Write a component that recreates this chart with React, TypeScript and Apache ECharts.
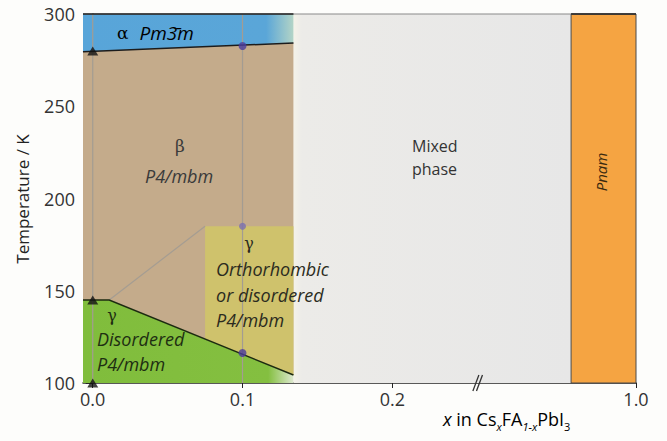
import React, { useEffect, useRef } from "react";
import * as echarts from "echarts";

// ---------- axis layout (display units with a break after 0.2) ----------
const X_MIN = -0.0065;
const X_BREAK = 0.257; // display position of the axis break mark
const X_END = 0.3627; // display position of x = 1.0
const REAL_AFTER_BREAK = 0.7; // real x value just after the break
const xd = (x: number) =>
  x <= 0.25 ? x : X_BREAK + ((x - REAL_AFTER_BREAK) * (X_END - X_BREAK)) / (1 - REAL_AFTER_BREAK);

// ---------- data ----------
const xTickValues = [0, 0.1, 0.2, 1.0];
const xTickLabels = ["0.0", "0.1", "0.2", "1.0"];
const yTicks = [100, 150, 200, 250, 300];

const T_MIN = 100;
const T_MAX = 300;
const PURE_EDGE = 0.134; // right edge of single-phase region
const alphaBetaLine = [
  [X_MIN, 279.5],
  [PURE_EDGE, 284.3],
];
const betaGammaLine = [
  [X_MIN, 145],
  [0.011, 145],
  [PURE_EDGE, 104.3],
];
const orthoLeft = 0.075;
const orthoTop = 185;
const orthoBottomLeft = 123.7;
const guideLine = [
  [0.011, 145],
  [0.075, 185],
];
const triangles = [
  [0, 280],
  [0, 145],
  [0, 100],
];
const dots = [
  [0.1, 282.7],
  [0.1, 116.3],
];
const dotFaint = [[0.1, 185]];
const verticalLines = [0, 0.1];
const mixedRange = [PURE_EDGE, 0.877];
const pnamRange = [0.877, 1.0];

// ---------- regions ----------
const alphaRegion = [[X_MIN, T_MAX], [PURE_EDGE, T_MAX], alphaBetaLine[1], alphaBetaLine[0]];
const betaRegion = [alphaBetaLine[0], alphaBetaLine[1], betaGammaLine[2], betaGammaLine[1], betaGammaLine[0]];
const gammaRegion = [betaGammaLine[0], betaGammaLine[1], betaGammaLine[2], [PURE_EDGE, T_MIN], [X_MIN, T_MIN]];
const orthoRegion = [
  [orthoLeft, orthoTop],
  [PURE_EDGE, orthoTop],
  betaGammaLine[2],
  [orthoLeft, orthoBottomLeft],
];
const mixedRegion = [
  [mixedRange[0], T_MAX],
  [mixedRange[1], T_MAX],
  [mixedRange[1], T_MIN],
  [mixedRange[0], T_MIN],
];
const pnamRegion = [
  [pnamRange[0], T_MAX],
  [pnamRange[1], T_MAX],
  [pnamRange[1], T_MIN],
  [pnamRange[0], T_MIN],
];

const FONT = "'Open Sans', 'Noto Sans', sans-serif";
const SERIF = "'DejaVu Serif', 'Liberation Serif', serif";

function polygonSeries(pts: number[][], style: any, z: number) {
  return {
    type: "custom",
    coordinateSystem: "cartesian2d",
    silent: true,
    z,
    data: [[0, 0]],
    renderItem: (_p: any, api: any) => ({
      type: "polygon",
      shape: { points: pts.map((p) => api.coord([xd(p[0]), p[1]])) },
      style,
    }),
  };
}

function polylineSeries(pts: number[][], style: any, z: number) {
  return {
    type: "custom",
    coordinateSystem: "cartesian2d",
    silent: true,
    z,
    data: [[0, 0]],
    renderItem: (_p: any, api: any) => ({
      type: "polyline",
      shape: { points: pts.map((p) => api.coord([xd(p[0]), p[1]])) },
      style: { fill: null, ...style },
    }),
  };
}

export default function App() {
  const ref = useRef<HTMLDivElement>(null);
  useEffect(() => {
    document.body.style.margin = "0";
    const chart = echarts.init(ref.current!, null, { renderer: "svg" });
    const tickDisplay = xTickValues.map(xd);
    const label = (t: string, x: number, y: number, font: string, fill = "#2b2b2b", align = "left") => ({
      type: "text",
      x,
      y,
      silent: true,
      z: 50,
      style: { text: t, font, fill, align, verticalAlign: "middle" },
    });
    const italic = `italic 18px ${FONT}`;
    const greek = `16px ${SERIF}`;
    chart.setOption({
      animation: false,
      backgroundColor: "#fdfdfb",
      grid: { left: 83, top: 14, right: 31, bottom: 58 },
      xAxis: {
        type: "value",
        min: X_MIN,
        max: X_END,
        axisLine: { show: true, lineStyle: { color: "#222", width: 1.5 } },
        axisTick: { show: true, customValues: tickDisplay, length: 5, lineStyle: { color: "#222" } },
        axisLabel: {
          customValues: tickDisplay,
          formatter: (v: number) => {
            const i = tickDisplay.findIndex((d) => Math.abs(d - v) < 1e-6);
            return i >= 0 ? xTickLabels[i] : "";
          },
          fontSize: 18,
          fontFamily: FONT,
          color: "#333",
          margin: 7,
        },
        splitLine: { show: false },
      },
      yAxis: {
        type: "value",
        min: T_MIN,
        max: T_MAX,
        interval: 50,
        axisLine: { show: true, lineStyle: { color: "#222", width: 1.5 } },
        axisTick: { show: true, length: 7, lineStyle: { color: "#222" } },
        axisLabel: {
          formatter: (v: number) => (yTicks.includes(v) ? String(v) : ""),
          fontSize: 18,
          fontFamily: FONT,
          color: "#333",
          margin: 8,
        },
        splitLine: { show: false },
      },
      series: [
        polygonSeries(
          mixedRegion,
          {
            fill: new echarts.graphic.LinearGradient(0, 0, 1, 0, [
              { offset: 0, color: "#f4f2e8" },
              { offset: 0.03, color: "#ecebe8" },
              { offset: 1, color: "#e7e7e7" },
            ]),
          },
          1
        ),
        polygonSeries(pnamRegion, { fill: "#f5a442", stroke: "#4a4a4a", lineWidth: 1 }, 2),
        polygonSeries(
          alphaRegion,
          {
            fill: new echarts.graphic.LinearGradient(0, 0, 1, 0, [
              { offset: 0, color: "#58a5d9" },
              { offset: 0.87, color: "#5aa6d8" },
              { offset: 1, color: "#b3d4c6" },
            ]),
          },
          2
        ),
        polygonSeries(betaRegion, { fill: "#c4ab8b" }, 2),
        polygonSeries(
          gammaRegion,
          {
            fill: new echarts.graphic.LinearGradient(0, 0, 1, 0, [
              { offset: 0, color: "#80bd3c" },
              { offset: 0.88, color: "#84bf40" },
              { offset: 1, color: "#dde8cf" },
            ]),
          },
          2
        ),
        polygonSeries(orthoRegion, { fill: "#cfc26c" }, 3),
        ...verticalLines.map((x) =>
          polylineSeries(
            [
              [x, T_MIN],
              [x, T_MAX],
            ],
            { stroke: "#a39c92", lineWidth: 1.2 },
            4
          )
        ),
        polylineSeries(guideLine, { stroke: "#a59d92", lineWidth: 1.2 }, 4),
        polylineSeries(alphaBetaLine, { stroke: "#1c1c1c", lineWidth: 1.5 }, 5),
        polylineSeries(betaGammaLine, { stroke: "#1c2a10", lineWidth: 1.5 }, 5),
        polylineSeries(
          [
            [X_MIN, T_MAX],
            [1.0, T_MAX],
          ],
          { stroke: "#8a8a8a", lineWidth: 1.2 },
          5
        ),
        polylineSeries(
          [
            [X_MIN, T_MAX],
            [PURE_EDGE, T_MAX],
          ],
          { stroke: "#222", lineWidth: 1.5 },
          6
        ),
        polylineSeries(
          [
            [pnamRange[0], T_MAX],
            [pnamRange[1], T_MAX],
          ],
          { stroke: "#222", lineWidth: 1.5 },
          6
        ),
        {
          type: "custom",
          coordinateSystem: "cartesian2d",
          silent: true,
          z: 7,
          clip: false,
          data: [[X_BREAK, T_MIN]],
          renderItem: (_p: any, api: any) => {
            const c = api.coord([api.value(0), api.value(1)]);
            return {
              type: "group",
              children: [-1.8, 1.8].map((dx) => ({
                type: "line",
                shape: { x1: c[0] + dx - 3, y1: c[1] + 8, x2: c[0] + dx + 3, y2: c[1] - 8 },
                style: { stroke: "#333", lineWidth: 1.3 },
              })),
            };
          },
        },
        {
          type: "scatter",
          z: 8,
          silent: true,
          symbol: "triangle",
          symbolSize: [11, 9],
          itemStyle: { color: "#111" },
          data: triangles.map((p) => [xd(p[0]), p[1]]),
          clip: false,
        },
        {
          type: "scatter",
          z: 8,
          silent: true,
          symbolSize: 8,
          itemStyle: { color: "#4b3b9c" },
          data: dots.map((p) => [xd(p[0]), p[1]]),
        },
        {
          type: "scatter",
          z: 8,
          silent: true,
          symbolSize: 7,
          itemStyle: { color: "#7a6fb0" },
          data: dotFaint.map((p) => [xd(p[0]), p[1]]),
        },
      ],
      graphic: [
        {
          type: "text",
          x: 117,
          y: 33,
          silent: true,
          z: 50,
          style: {
            text: "{a|α}{sp| }{b|Pm3\u0304m}",
            verticalAlign: "middle",
            rich: {
              a: { fontFamily: SERIF, fontSize: 17, color: "#1d2b55" },
              sp: { fontFamily: FONT, fontSize: 18, color: "#1d2b55", width: 11 },
              b: { fontFamily: FONT, fontSize: 19, fontStyle: "italic", color: "#1d2b55" },
            },
          },
        },
        label("β", 180, 146, `17px ${SERIF}`, "#3a3a3a", "center"),
        label("P4/mbm", 145, 176, italic, "#3a3a3a"),
        label("γ", 112, 315, greek, "#1e2e12", "center"),
        label("Disordered", 97, 339, italic, "#1e2e12"),
        label("P4/mbm", 97, 364, italic, "#1e2e12"),
        label("γ", 249, 243, greek, "#2b2b20", "center"),
        label("Orthorhombic", 216, 269, italic, "#2b2b20"),
        label("or disordered", 216, 295, italic, "#2b2b20"),
        label("P4/mbm", 216, 320, italic, "#2b2b20"),
        label("Mixed", 412, 146, `16px ${FONT}`, "#333"),
        label("phase", 412, 169, `16px ${FONT}`, "#333"),
        {
          type: "text",
          x: 601,
          y: 172,
          rotation: Math.PI / 2,
          silent: true,
          z: 50,
          style: { text: "Pnam", font: `italic 15px ${FONT}`, fill: "#3a2a10", align: "center", verticalAlign: "middle" },
        },
        {
          type: "text",
          x: 22,
          y: 199,
          rotation: Math.PI / 2,
          silent: true,
          z: 50,
          style: { text: "Temperature / K", font: `17px ${FONT}`, fill: "#222", align: "center", verticalAlign: "middle" },
        },
        {
          type: "text",
          x: 443,
          y: 419,
          silent: true,
          z: 50,
          style: {
            text: "{i|x}{n| in Cs}{s|x}{n|FA}{s|1-x}{n|PbI}{t|3}",
            verticalAlign: "middle",
            rich: {
              i: { fontFamily: FONT, fontSize: 18, fontStyle: "italic", color: "#222", lineHeight: 26 },
              n: { fontFamily: FONT, fontSize: 18, color: "#222", lineHeight: 26 },
              s: { fontFamily: FONT, fontSize: 11, fontStyle: "italic", color: "#222", lineHeight: 11, verticalAlign: "bottom" },
              t: { fontFamily: FONT, fontSize: 11, color: "#222", lineHeight: 11, verticalAlign: "bottom" },
            },
          },
        },
      ],
    });
    return () => chart.dispose();
  }, []);
  return <div ref={ref} style={{ width: 667, height: 441 }} />;
}
